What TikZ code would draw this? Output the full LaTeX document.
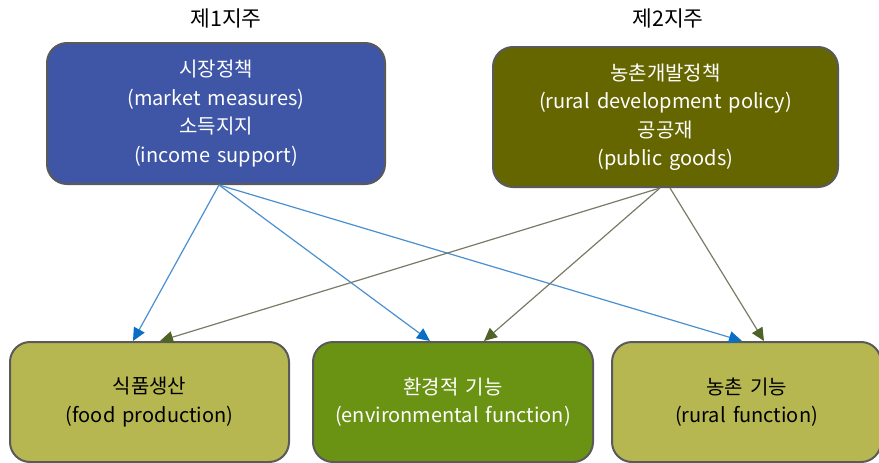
\documentclass[tikz,border=0pt]{standalone}
\usepackage{fontspec}
\setmainfont{Noto Sans CJK KR}[WordSpace=1.6]
\usetikzlibrary{positioning, arrows.meta}

\definecolor{pillarblue}{HTML}{3F55A5}
\definecolor{pillarolive}{HTML}{666600}
\definecolor{funclight}{HTML}{B7B752}
\definecolor{funcgreen}{HTML}{6A9314}
\definecolor{boxline}{HTML}{5A5A5A}
\definecolor{lineblue}{HTML}{4A8FCF}
\definecolor{tipblue}{HTML}{0A6FC4}
\definecolor{lineolive}{HTML}{7A7A66}
\definecolor{tipolive}{HTML}{4F6228}

\begin{document}
\begin{tikzpicture}[
        x=1pt, y=-1pt,
        pillarbox/.style={
            rectangle,
            rounded corners=20pt,
            draw=boxline,
            line width=2pt,
            align=center,
            text=white,
            font=\fontsize{20}{28.5}\selectfont
        },
        firstpillar/.style={pillarbox, fill=pillarblue, minimum width=338pt, minimum height=141pt},
        secondpillar/.style={pillarbox, fill=pillarolive, minimum width=345pt, minimum height=140pt},
        funcbox/.style={pillarbox, fill=funclight, text=black, minimum width=279pt, minimum height=120pt},
        envbox/.style={funcbox, fill=funcgreen, text=white, minimum width=280pt},
        title/.style={font=\fontsize{21.5}{25}\selectfont},
        bluearrow/.style={-{Triangle[length=13pt, width=12pt, color=tipblue]}, line width=1.2pt, draw=lineblue},
        olivearrow/.style={-{Triangle[length=13pt, width=12pt, color=tipolive]}, line width=1.2pt, draw=lineolive}
    ]
    \useasboundingbox (0,0) rectangle (879,463);

    % --- Pillars ---
    \node[title] (t1) at (226,18) {제1지주};
    \node[title] (t2) at (668,18) {제2지주};

    \node[firstpillar] (market) at (216,113.5) {
        시장정책\\
        (market measures)\\
        소득지지\\
        (income support)
    };

    \node[secondpillar] (rural) at (665.5,117) {
        농촌개발정책\\
        (rural development policy)\\
        공공재\\
        (public goods)
    };

    % --- Functions ---
    \node[funcbox] (food) at (149.5,402) {
        식품생산\\
        (food production)
    };

    \node[envbox, right=22pt of food] (env) {
        환경적 기능\\
        (environmental function)
    };

    \node[funcbox, minimum width=269pt, right=17pt of env] (ruralfn) {
        농촌 기능\\
        (rural function)
    };

    % --- Arrows ---
    \draw[bluearrow] ([xshift=3pt]market.south) -- ([xshift=-16.5pt]food.north);
    \draw[bluearrow] ([xshift=3pt]market.south) -- ([xshift=-23pt]env.north);
    \draw[bluearrow] ([xshift=3pt]market.south) -- ([xshift=-4.5pt]ruralfn.north);
    \draw[olivearrow] ([xshift=-5.5pt]rural.south) -- ([xshift=10.5pt]food.north);
    \draw[olivearrow] ([xshift=-5.5pt]rural.south) -- ([xshift=31pt]env.north);
    \draw[olivearrow] ([xshift=4.5pt]rural.south) -- ([xshift=17.5pt]ruralfn.north);

\end{tikzpicture}
\end{document}
